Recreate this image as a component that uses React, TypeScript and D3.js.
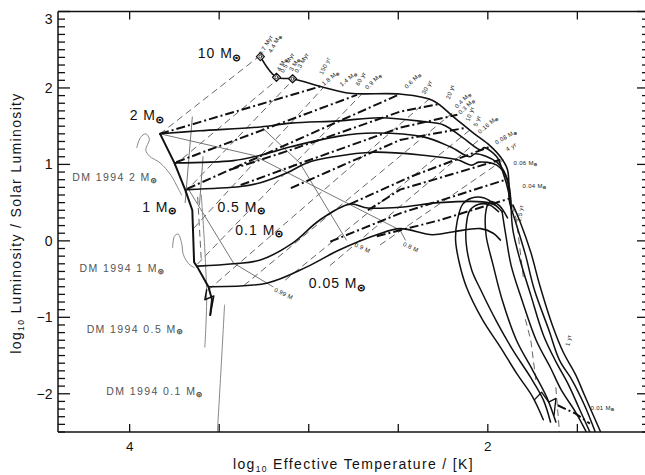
import React from 'react';
import * as d3 from 'd3';

type P = [number, number];

// ---- evolutionary tracks (log Teff, log L) ----
const track10: P[] = [[3.27,2.41],[3.18,2.14],[3.09,2.12],[2.92,2.01],[2.77,1.93],[2.49,1.92],[2.31,1.84],[2.19,1.62],[2.08,1.41],[1.99,1.25],[1.93,1.10],[1.89,0.93],[1.88,0.53],[1.87,0.43]];
const track2: P[] = [[3.83,1.40],[3.61,1.44],[3.27,1.49],[3.10,1.54],[2.83,1.57],[2.60,1.61],[2.36,1.56],[2.25,1.52],[2.14,1.35],[2.04,1.19],[2.02,1.22],[1.95,1.10],[1.92,0.93],[1.88,0.60],[1.87,0.43]];
const track1: P[] = [[3.75,1.02],[3.42,1.05],[3.27,1.12],[3.10,1.23],[2.83,1.37],[2.64,1.41],[2.36,1.36],[2.21,1.23],[2.10,1.10],[2.07,1.14],[1.95,1.03],[1.90,0.86],[1.87,0.43]];
const track05: P[] = [[3.68,0.67],[3.38,0.71],[3.27,0.76],[3.12,0.89],[3.01,1.02],[2.86,1.10],[2.64,1.16],[2.36,1.12],[2.17,1.06],[2.09,0.99],[2.05,1.03],[1.95,0.99],[1.89,0.80],[1.87,0.43]];
const track01: P[] = [[3.62,-0.33],[3.42,-0.30],[3.27,-0.25],[3.09,-0.03],[2.94,0.27],[2.77,0.48],[2.67,0.43],[2.49,0.44],[2.27,0.50],[2.03,0.51],[1.96,0.47],[1.92,0.38]];
const track005: P[] = [[3.56,-0.60],[3.23,-0.55],[3.01,-0.34],[2.83,-0.12],[2.62,0.08],[2.49,0.16],[2.31,0.08],[2.19,0.12],[2.04,0.16],[1.97,0.10],[1.93,0.01]];
const envelope: P[] = [[3.83,1.40],[3.75,1.02],[3.69,0.67],[3.65,0.40],[3.64,-0.28],[3.62,-0.35],[3.56,-0.60],[3.54,-0.77],[3.55,-0.97]];
const envelopeZig: P[] = [[3.57,-0.64],[3.58,-0.77],[3.53,-0.72],[3.55,-0.97]];

// ---- cooling branch and loops on the right ----
const branch1: P[] = [[1.87,0.43],[1.84,0.21],[1.79,-0.18],[1.74,-0.64],[1.66,-1.16],[1.60,-1.56],[1.53,-1.82],[1.46,-2.15],[1.40,-2.50]];
const branch2: P[] = [[1.87,0.43],[1.86,0.14],[1.82,-0.25],[1.76,-0.71],[1.69,-1.23],[1.62,-1.58],[1.55,-1.88],[1.49,-2.19],[1.43,-2.50]];
const branch3: P[] = [[1.92,0.38],[1.90,0.08],[1.87,-0.32],[1.81,-0.77],[1.73,-1.30],[1.65,-1.66],[1.59,-1.95],[1.51,-2.24],[1.45,-2.50]];
const branch4: P[] = [[1.86,0.47],[1.82,0.25],[1.76,-0.15],[1.71,-0.58],[1.64,-1.10],[1.58,-1.45],[1.51,-1.75],[1.46,-2.02],[1.37,-2.50]];
const loopOuter: P[] = [[1.96,0.47],[2.02,0.56],[2.09,0.56],[2.14,0.48],[2.17,0.27],[2.18,0.01],[2.16,-0.28],[2.12,-0.60],[2.03,-1.03],[1.93,-1.39],[1.84,-1.73],[1.75,-2.04],[1.69,-2.34]];
const loopInner: P[] = [[1.94,0.38],[1.99,0.47],[2.05,0.48],[2.10,0.40],[2.12,0.21],[2.12,-0.05],[2.09,-0.38],[2.04,-0.64],[1.95,-1.06],[1.86,-1.43],[1.76,-1.79],[1.69,-2.08],[1.65,-2.37]];
const loopThird: P[] = [[1.89,0.30],[1.94,0.47],[1.99,0.51],[2.01,0.40],[2.01,0.08],[1.97,-0.32],[1.92,-0.77],[1.84,-1.30],[1.75,-1.69],[1.67,-2.05],[1.62,-2.37]];
const bottomZig: P[] = [[1.74,-2.08],[1.70,-1.98],[1.66,-2.11],[1.62,-2.06],[1.63,-2.28]];

// ---- lines of constant mass (dash-dot) ----
const massLines: P[][] = [
  [[3.83,1.40],[2.92,2.03]],
  [[3.74,1.03],[2.73,1.91]],
  [[3.68,0.68],[2.49,1.92]],
  [[3.44,0.93],[3.10,1.19],[2.49,1.69],[2.27,1.79]],
  [[3.38,0.73],[3.10,0.97],[2.49,1.48],[2.17,1.65]],
  [[3.10,0.69],[2.49,1.32],[2.12,1.48]],
  [[2.77,0.48],[2.43,0.84],[1.99,1.23]],
  [[2.67,0.40],[2.49,0.67],[1.93,1.06]],
  [[2.88,-0.01],[2.49,0.36],[1.90,0.80]],
  [[2.62,0.06],[2.27,0.27],[1.87,0.56]],
  [[1.61,-2.15],[1.51,-2.26],[1.43,-2.39]],
];

// ---- isochrones (grey dashed) ----
const isochrones: P[][] = [
  [[3.83,1.40],[3.29,2.39]],
  [[3.75,0.99],[3.18,2.10]],
  [[3.69,0.64],[3.09,2.10]],
  [[3.64,0.17],[2.92,2.00]],
  [[3.62,-0.30],[2.70,1.93]],
  [[3.56,-0.64],[2.32,1.87]],
  [[3.36,-0.58],[2.20,1.67]],
  [[3.13,-0.51],[2.10,1.45]],
  [[2.88,-0.32],[2.05,1.32]],
  [[2.60,-0.05],[1.90,1.08]],
  [[1.88,0.60],[1.84,0.27],[1.80,-0.51]],
  [[1.79,-1.03],[1.76,-1.30],[1.73,-1.85]],
  [[1.62,-1.92],[1.61,-2.21],[1.60,-2.50]],
  [[3.62,0.57],[3.60,-0.25]],
];

// ---- accreted-mass fraction lines (grey solid) ----
const fractionLines: P[][] = [
  [[3.83,1.40],[3.31,1.12],[2.49,0.14],[2.46,0.01]],
  [[3.26,1.48],[3.05,1.02],[2.79,0.01]],
  [[3.67,0.67],[3.42,-0.29],[3.20,-0.60]],
  [[3.65,1.62],[3.69,0.50]],
  [[3.59,1.10],[3.61,0.47]],
];

// ---- D'Antona & Mazzitelli 1994 tracks (grey) ----
const dm2: P[] = [[3.96,1.22],[3.94,1.35],[3.91,1.40],[3.89,1.33],[3.91,1.19],[3.89,1.11],[3.83,1.02],[3.77,0.86],[3.73,0.69],[3.71,0.60]];
const dm1: P[] = [[3.76,-0.09],[3.75,0.06],[3.73,0.09],[3.71,-0.03],[3.70,-0.18],[3.67,-0.30],[3.64,-0.35]];
const dm05: P[] = [[3.60,0.60],[3.58,-0.12],[3.57,-0.77],[3.58,-1.39]];
const dm01: P[] = [[3.47,-0.84],[3.49,-1.69],[3.51,-2.50]];

const diamonds: P[] = [[3.27,2.41],[3.18,2.14],[3.09,2.12]];

// ---- labels ----
const bigLabels: [number, number, string][] = [
  [3.62,2.39,'10 M☉'],[4.00,1.58,'2 M☉'],[3.93,0.38,'1 M☉'],
  [3.51,0.38,'0.5 M☉'],[3.41,0.08,'0.1 M☉'],[3.00,-0.62,'0.05 M☉'],
];
const dmLabels: [number, number, string][] = [
  [4.32,0.78,'DM 1994 2 M☉'],[4.28,-0.41,'DM 1994 1 M☉'],
  [4.24,-1.20,'DM 1994 0.5 M☉'],[4.13,-2.02,'DM 1994 0.1 M☉'],
];
const smallLabels: [number, number, string, number][] = [
  [3.24,2.56,'0.7 Myr',-60],[3.19,2.58,'4.4 M☉',-60],[3.15,2.31,'4 M☉',-60],
  [3.12,2.33,'0.5 Myr',-60],[3.08,2.31,'3 M☉',-60],[3.04,2.33,'0.3 Myr',-60],
  [2.91,2.29,'150 yr',-65],[2.88,2.13,'1.8 M☉',-40],[2.78,2.12,'1.4 M☉',-40],
  [2.71,2.12,'60 yr',-60],[2.64,2.09,'0.9 M☉',-45],[2.42,2.10,'0.6 M☉',-45],
  [2.34,2.01,'30 yr',-60],[2.21,1.95,'20 yr',-70],[2.14,1.84,'0.4 M☉',-45],
  [2.12,1.76,'0.3 M☉',-45],[2.10,1.66,'10 yr',-70],[2.06,1.57,'5 yr',-70],
  [2.00,1.52,'0.16 M☉',-40],[1.90,1.36,'0.08 M☉',-30],[1.87,1.23,'4 yr',-30],
  [1.79,1.02,'0.06 M☉',0],[1.74,0.72,'0.04 M☉',0],[1.82,0.36,'1.5 yr',-80],
  [1.55,-1.30,'1 yr',-80],[1.36,-2.19,'0.01 M☉',0],
  [2.70,-0.09,'0.9 M',25],[2.43,-0.08,'0.8 M',25],[3.14,-0.69,'0.99 M',25],
];

const xTicks = [4, 3.5, 3, 2.5, 2, 1.5];
const xTickLabels = [4, 2];
const yTickLabels = [-2, -1, 0, 1, 2, 3];

const FONT = '"Liberation Sans", Arial, Helvetica, sans-serif';

function Sun({ text, fill, sunStroke = 0.8, ...rest }: any) {
  const parts = text.split('☉');
  return (
    <text fill={fill} {...rest}>
      {parts[0]}
      {text.includes('☉') && (
        <tspan fontSize="0.6em" dy="0.3em" fontFamily="DejaVu Sans" fontWeight="bold"
          stroke={fill} strokeWidth={sunStroke}>☉</tspan>
      )}
    </text>
  );
}

export default function App() {
  const W = 645, H = 475;
  const x = d3.scaleLinear().domain([4.4, 1.1]).range([58, 649]);
  const y = d3.scaleLinear().domain([-2.5, 3]).range([432, 11.5]);
  const smooth = d3.line<P>().x(d => x(d[0])).y(d => y(d[1])).curve(d3.curveCatmullRom.alpha(0.5));
  const straight = d3.line<P>().x(d => x(d[0])).y(d => y(d[1]));
  const x0 = x.range()[0], x1 = x.range()[1], yb = y.range()[0], yt = y.range()[1];

  const minorY = d3.range(-25, 31).map(i => i / 10).filter(v => Math.abs(v - Math.round(v)) > 1e-6);
  const tracks = [track10, track2, track1, track05, track01, track005];
  const branches = [branch1, branch2, branch3, branch4, loopOuter, loopInner, loopThird];

  return (
    <svg width={W} height={H} style={{ position: 'absolute', left: 0, top: 0, background: '#fff' }} fontFamily={FONT}>
      <defs>
        <clipPath id="plot"><rect x={x0} y={yt} width={x1 - x0} height={yb - yt} /></clipPath>
      </defs>
      <g clipPath="url(#plot)" fill="none" strokeLinejoin="round" strokeLinecap="round">
        {isochrones.map((l, i) => <path key={'i' + i} d={straight(l)!} stroke="#666" strokeWidth={1} strokeDasharray="6 5" />)}
        {fractionLines.map((l, i) => <path key={'f' + i} d={straight(l)!} stroke="#777" strokeWidth={1} />)}
        {[dm2, dm1, dm05, dm01].map((l, i) => <path key={'d' + i} d={smooth(l)!} stroke="#888" strokeWidth={1} />)}
        {massLines.map((l, i) => <path key={'m' + i} d={straight(l)!} stroke="#111" strokeWidth={2} strokeDasharray="9 3 2 3" strokeLinecap="butt" />)}
        {tracks.map((l, i) => <path key={'t' + i} d={smooth(l)!} stroke="#111" strokeWidth={1.6} />)}
        {branches.map((l, i) => <path key={'b' + i} d={smooth(l)!} stroke="#111" strokeWidth={1.5} />)}
        <path d={straight(envelope)!} stroke="#111" strokeWidth={2} />
        <path d={straight(envelopeZig)!} stroke="#111" strokeWidth={1.5} />
        <path d={straight(bottomZig)!} stroke="#111" strokeWidth={1.3} />
        {diamonds.map((d, i) => {
          const cx = x(d[0]), cy = y(d[1]), r = 4;
          return (
            <g key={'dm' + i}>
              <path d={`M${cx},${cy - r}L${cx + r},${cy}L${cx},${cy + r}L${cx - r},${cy}Z`} fill="#fff" stroke="#111" strokeWidth={1.2} />
              <circle cx={cx} cy={cy} r={1.5} fill="none" stroke="#111" strokeWidth={0.8} />
            </g>
          );
        })}
      </g>

      {/* labels */}
      {bigLabels.map(([t, l, s], i) => (
        <Sun key={'bl' + i} text={s} x={x(t)} y={y(l)} fontSize={14} letterSpacing={1} fill="#111" sunStroke={1} />
      ))}
      {dmLabels.map(([t, l, s], i) => (
        <Sun key={'dl' + i} text={s} x={x(t)} y={y(l)} fontSize={10.5} letterSpacing={1.4} fill="#555" sunStroke={0.8} />
      ))}
      {smallLabels.map(([t, l, s, a], i) => {
        const cx = x(t), cy = y(l);
        return (
          <Sun key={'sl' + i} text={s} x={cx} y={cy} dy="0.35em" fontSize={6} letterSpacing={0.3} sunStroke={0.4}
            textAnchor="middle" fill="#222" transform={`rotate(${a},${cx},${cy})`} />
        );
      })}

      {/* axes */}
      <g stroke="#111" strokeWidth={1.5} fill="none">
        <line x1={x0} y1={yb} x2={x1} y2={yb} />
        <line x1={x0} y1={yt} x2={x1} y2={yt} />
        <line x1={x0} y1={yt} x2={x0} y2={yb} />
        <line x1={x1} y1={yt} x2={x1} y2={yb} />
      </g>
      <g stroke="#111" strokeWidth={1.3}>
        {xTicks.map((t, i) => (
          <g key={'xt' + i}>
            <line x1={x(t)} x2={x(t)} y1={yb} y2={yb - 8} />
            <line x1={x(t)} x2={x(t)} y1={yt} y2={yt + 8} />
          </g>
        ))}
        {yTickLabels.map((v, i) => (
          <g key={'ym' + i}>
            <line x1={x0} x2={x0 + 12} y1={y(v)} y2={y(v)} />
            <line x1={x1} x2={x1 - 12} y1={y(v)} y2={y(v)} />
          </g>
        ))}
        {minorY.map((v, i) => (
          <g key={'yn' + i}>
            <line x1={x0} x2={x0 + 7} y1={y(v)} y2={y(v)} />
            <line x1={x1} x2={x1 - 7} y1={y(v)} y2={y(v)} />
          </g>
        ))}
      </g>
      {xTickLabels.map((t, i) => (
        <text key={'xl' + i} x={x(t)} y={451} fontSize={13.5} textAnchor="middle" fill="#111">{t}</text>
      ))}
      {yTickLabels.map((v, i) => (
        <text key={'yl' + i} x={52.5} y={Math.max(y(v), 19)} dy="0.36em" fontSize={14} textAnchor="end" fill="#111">
          {v < 0 ? '−' + Math.abs(v) : String(v)}
        </text>
      ))}
      <text x={353.5} y={469} fontSize={14} letterSpacing={1.35} textAnchor="middle" fill="#111">
        log<tspan fontSize={8.5} dy={3}>10</tspan><tspan dy={-3}> Effective Temperature / [K]</tspan>
      </text>
      <text transform="translate(21,223) rotate(-90)" fontSize={14} letterSpacing={1.35} textAnchor="middle" fill="#111">
        log<tspan fontSize={8.5} dy={3}>10</tspan><tspan dy={-3}> Luminosity / Solar Luminosity</tspan>
      </text>
    </svg>
  );
}
